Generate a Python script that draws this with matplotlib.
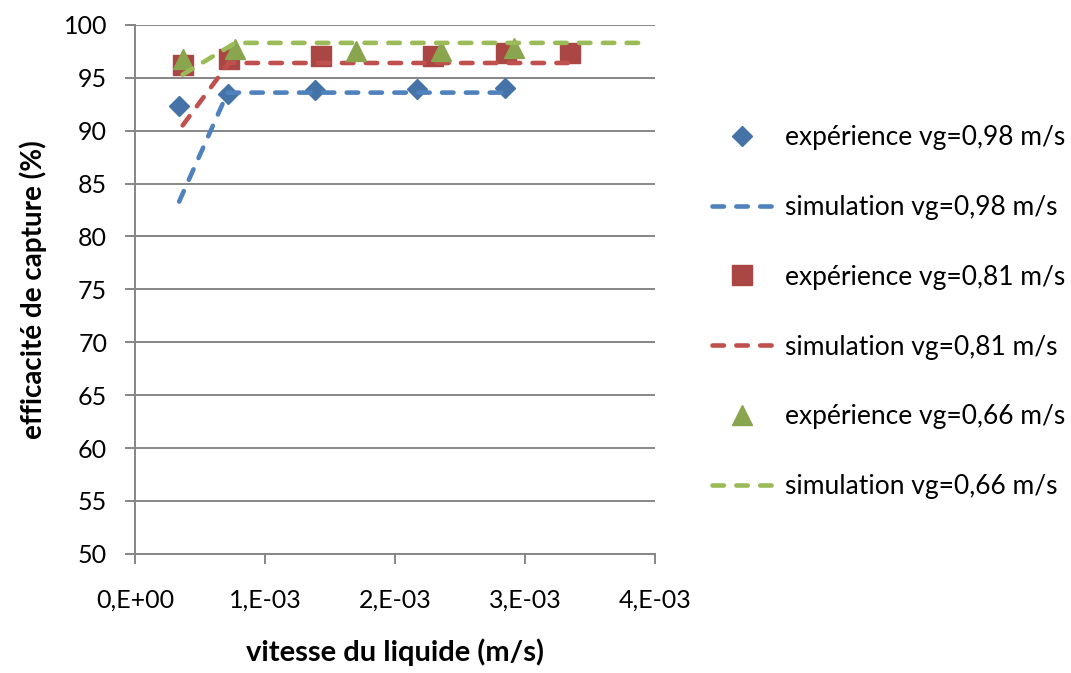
import matplotlib
matplotlib.use("Agg")
import matplotlib.pyplot as plt

plt.rcParams["font.family"] = ["Lato", "DejaVu Sans"]

# experience
x_exp_098 = [0.34e-3, 0.713e-3, 1.385e-3, 2.167e-3, 2.846e-3]
y_exp_098 = [92.3, 93.5, 93.85, 93.9, 94.0]
x_exp_081 = [0.367e-3, 0.723e-3, 1.428e-3, 2.295e-3, 2.854e-3, 3.349e-3]
y_exp_081 = [96.2, 96.75, 97.05, 97.05, 97.3, 97.3]
x_exp_066 = [0.367e-3, 0.772e-3, 1.698e-3, 2.351e-3, 2.915e-3]
y_exp_066 = [96.8, 97.7, 97.55, 97.55, 97.8]

# simulation
x_sim_098 = [0.34e-3, 0.713e-3, 1.385e-3, 2.167e-3, 2.846e-3]
y_sim_098 = [83.3, 93.6, 93.6, 93.6, 93.6]
x_sim_081 = [0.367e-3, 0.723e-3, 1.428e-3, 2.295e-3, 2.854e-3, 3.349e-3]
y_sim_081 = [90.5, 96.4, 96.4, 96.4, 96.4, 96.4]
x_sim_066 = [0.367e-3, 0.772e-3, 1.698e-3, 2.351e-3, 2.915e-3, 3.95e-3]
y_sim_066 = [95.3, 98.3, 98.3, 98.3, 98.3, 98.3]

xticks = [0, 1e-3, 2e-3, 3e-3, 4e-3]
xtick_labels = ["0,E+00", "1,E-03", "2,E-03", "3,E-03", "4,E-03"]
yticks = list(range(50, 101, 5))

fig = plt.figure(figsize=(10.71, 6.73), dpi=100)
ax = fig.add_axes([0.126, 0.177, 0.4855, 0.786])

lw = 3.3
dash = (2.5, 2.7)
ax.plot(x_exp_098, y_exp_098, linestyle="none", marker="D", ms=10.5,
        color="#4572A7", label="expérience vg=0,98 m/s", zorder=3)
ax.plot(x_sim_098, y_sim_098, color="#4F81BD", lw=lw, dashes=dash,
        dash_capstyle="round", label="simulation vg=0,98 m/s", zorder=3)
ax.plot(x_exp_081, y_exp_081, linestyle="none", marker="s", ms=14.5,
        color="#AA4643", label="expérience vg=0,81 m/s", zorder=3)
ax.plot(x_sim_081, y_sim_081, color="#C0504D", lw=lw, dashes=dash,
        dash_capstyle="round", label="simulation vg=0,81 m/s", zorder=3)
ax.plot(x_exp_066, y_exp_066, linestyle="none", marker="^", ms=14.5,
        color="#89A54E", label="expérience vg=0,66 m/s", zorder=3)
ax.plot(x_sim_066, y_sim_066, color="#9BBB59", lw=lw, dashes=dash,
        dash_capstyle="round", label="simulation vg=0,66 m/s", zorder=3)

ax.set_xlim(0, 4e-3)
ax.set_ylim(50, 100)
ax.set_xticks(xticks)
ax.set_xticklabels(xtick_labels)
ax.set_yticks(yticks)

gray = "#868686"
ax.grid(True, axis="y", color=gray, lw=1.4)
ax.set_axisbelow(True)
for s in ["top", "right"]:
    ax.spines[s].set_visible(False)
for s in ["left", "bottom"]:
    ax.spines[s].set_color(gray)
    ax.spines[s].set_linewidth(1.4)
ax.tick_params(axis="both", colors=gray, length=7, width=1.4, labelsize=18,
               labelcolor="black")
ax.tick_params(axis="x", pad=18)
ax.tick_params(axis="y", pad=13)

ax.set_xlabel("vitesse du liquide (m/s)", fontsize=21, fontweight="bold",
              labelpad=19)
ax.set_ylabel("efficacité de capture (%)", fontsize=20, fontweight="bold",
              labelpad=12)

leg = fig.legend(loc="upper left", bbox_to_anchor=(0.655, 0.83),
                 frameon=False, fontsize=19, handlelength=2.3,
                 handletextpad=0.45, labelspacing=1.7, borderaxespad=0)

plt.savefig("out.png", dpi=100)
